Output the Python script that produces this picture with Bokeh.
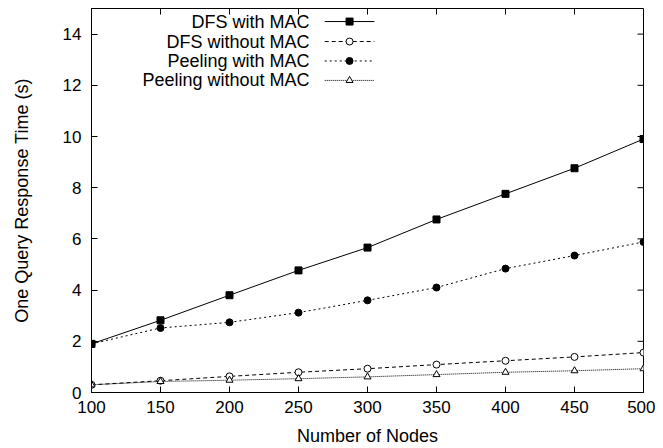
import math
from bokeh.plotting import figure
from bokeh.models import FixedTicker, Range1d
from bokeh.core.properties import value
from bokeh.embed import file_html
from bokeh.resources import INLINE

nodes = [100, 150, 200, 250, 300, 350, 400, 450, 500]
dfs_mac = [1.9, 2.82, 3.8, 4.77, 5.66, 6.76, 7.76, 8.76, 9.9]
dfs_nomac = [0.3, 0.46, 0.63, 0.79, 0.93, 1.09, 1.24, 1.39, 1.56]
peel_mac = [1.9, 2.52, 2.74, 3.12, 3.6, 4.1, 4.84, 5.35, 5.88]
peel_nomac = [0.3, 0.43, 0.48, 0.54, 0.61, 0.7, 0.79, 0.85, 0.93]
series_names = ["DFS with MAC", "DFS without MAC", "Peeling with MAC", "Peeling without MAC"]
x_ticks = [100, 150, 200, 250, 300, 350, 400, 450, 500]
y_ticks = [0, 2, 4, 6, 8, 10, 12, 14]
X_MIN, X_MAX, Y_MIN, Y_MAX = 100, 500, 0, 15

FONT = "Liberation Sans"

p = figure(width=655, height=448, output_backend="svg", toolbar_location=None,
           x_range=Range1d(X_MIN, X_MAX), y_range=Range1d(Y_MIN, Y_MAX),
           min_border_left=91, min_border_right=12, min_border_top=8, min_border_bottom=56)
p.grid.visible = False
p.outline_line_color = "black"
p.outline_line_width = 1
p.background_fill_color = "white"
p.border_fill_color = "white"

for ax, ticks in ((p.xaxis[0], x_ticks), (p.yaxis[0], y_ticks)):
    ax.ticker = FixedTicker(ticks=ticks)
    ax.major_tick_in = 6
    ax.major_tick_out = 0
    ax.minor_tick_in = 0
    ax.minor_tick_out = 0
    ax.axis_line_color = "black"
    ax.major_tick_line_color = "black"
    ax.major_label_text_font = FONT
    ax.major_label_text_font_size = "17px"
    ax.major_label_text_color = "black"
    ax.axis_label_text_font = FONT
    ax.axis_label_text_font_size = "18px"
    ax.axis_label_text_font_style = "normal"
    ax.axis_label_text_color = "black"

p.xaxis[0].axis_label = "Number of Nodes"
p.xaxis[0].major_label_standoff = 8
p.xaxis[0].axis_label_standoff = 10
p.yaxis[0].axis_label = "One Query Response Time (s)"
p.yaxis[0].major_label_standoff = 10
p.yaxis[0].axis_label_standoff = 28

# mirrored inward ticks on top and right frame edges
p.ray(x=x_ticks, y=[Y_MAX] * len(x_ticks), length=6, length_units="screen",
      angle=-math.pi / 2, line_color="black", line_width=1)
p.ray(x=[X_MAX] * len(y_ticks), y=y_ticks, length=6, length_units="screen",
      angle=math.pi, line_color="black", line_width=1)

styles = [
    dict(data=dfs_mac, dash="solid", marker="square", fill="black", size=7),
    dict(data=dfs_nomac, dash="4 3", marker="circle", fill="white", size=7),
    dict(data=peel_mac, dash="2 3", marker="circle", fill="black", size=7),
    dict(data=peel_nomac, dash="1 1", marker="triangle", fill="white", size=7),
]

# legend layout (data coordinates of the fixed ranges)
leg_text_x = 258
leg_line_x0, leg_line_x1, leg_mark_x = 269, 305, 287
leg_rows = [14.49, 13.71, 12.95, 12.19]

for s, name, ly in zip(styles, series_names, leg_rows):
    p.line(nodes, s["data"], line_color="black", line_width=1, line_dash=s["dash"])
    p.scatter(nodes, s["data"], marker=s["marker"], size=s["size"], fill_color=s["fill"],
              line_color="black", line_width=1)
    p.line([leg_line_x0, leg_line_x1], [ly, ly], line_color="black", line_width=1, line_dash=s["dash"])
    p.scatter([leg_mark_x], [ly], marker=s["marker"], size=s["size"], fill_color=s["fill"],
              line_color="black", line_width=1)
    p.text(x=[leg_text_x], y=[ly], text=[name], text_align="right", text_baseline="middle",
           text_font=value(FONT), text_font_size="18px", text_color="black")

open("out.html", "w").write(file_html(p, INLINE))
